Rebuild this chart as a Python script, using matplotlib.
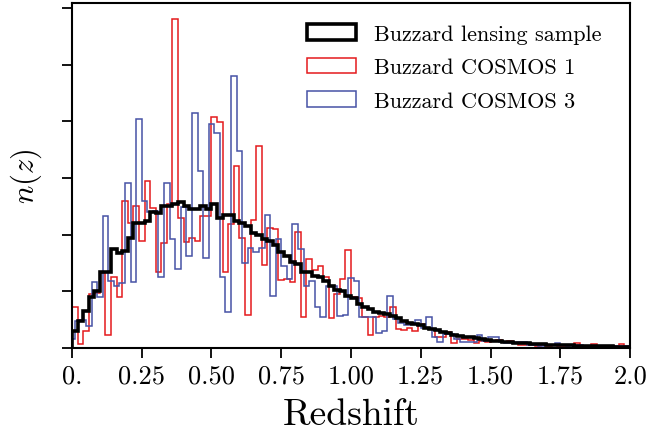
import numpy as np
import matplotlib
matplotlib.use("Agg")
import matplotlib.pyplot as plt

plt.rcParams['font.family'] = 'serif'
plt.rcParams['font.serif'] = ['cmr10', 'DejaVu Serif']
plt.rcParams['mathtext.fontset'] = 'cm'
plt.rcParams['axes.unicode_minus'] = False

# bin edges (redshift)
edges_grid = np.linspace(0.0, 2.0, 101)
edges_shift = np.linspace(-0.01, 2.01, 102)

# n(z), one value per bin
lensing = [0.30, 0.48, 0.65, 0.90, 1.00, 1.35, 1.35, 1.75, 1.68, 1.72,
           1.95, 2.20, 2.20, 2.25, 2.40, 2.38, 2.50, 2.50, 2.55, 2.58,
           2.50, 2.45, 2.45, 2.50, 2.45, 2.55, 2.30, 2.35, 2.35, 2.25,
           2.20, 2.15, 2.03, 2.00, 1.92, 1.88, 1.82, 1.70, 1.62, 1.52,
           1.48, 1.35, 1.35, 1.27, 1.25, 1.18, 1.10, 1.02, 1.00, 0.92,
           0.88, 0.78, 0.72, 0.68, 0.64, 0.62, 0.60, 0.57, 0.53, 0.48,
           0.45, 0.42, 0.40, 0.36, 0.33, 0.32, 0.28, 0.27, 0.23, 0.22,
           0.20, 0.19, 0.17, 0.16, 0.14, 0.13, 0.12, 0.11, 0.10, 0.09,
           0.085, 0.08, 0.075, 0.07, 0.065, 0.06, 0.055, 0.05, 0.05, 0.045,
           0.04, 0.04, 0.035, 0.035, 0.03, 0.03, 0.03, 0.025, 0.025, 0.02]

cosmos1 = [0.72, 0.07, 0.30, 0.95, 0.97, 1.33, 0.23, 1.25, 0.90, 2.60,
           2.20, 2.51, 1.89, 2.95, 2.47, 1.34, 1.85, 2.54, 5.80, 2.29,
           1.87, 1.94, 1.89, 2.33, 2.33, 4.07, 3.99, 1.34, 2.19, 3.22,
           1.95, 0.58, 2.26, 3.56, 1.46, 2.12, 2.10, 1.20, 1.22, 1.16,
           2.05, 0.55, 1.57, 1.38, 1.45, 1.25, 0.53, 0.95, 1.22, 1.73,
           0.90, 0.88, 0.55, 0.23, 0.55, 0.56, 0.55, 0.72, 0.33, 0.31,
           0.35, 0.30, 0.42, 0.35, 0.33, 0.20, 0.20, 0.28, 0.09, 0.16,
           0.16, 0.15, 0.08, 0.12, 0.10, 0.12, 0.14, 0.10, 0.12, 0.08,
           0.06, 0.06, 0.05, 0.04, 0.05, 0.04, 0.05, 0.04, 0.04, 0.05,
           0.08, 0.04, 0.04, 0.07, 0.04, 0.03, 0.04, 0.04, 0.07, 0.04]

cosmos3 = [0.16, 0.48, 0.50, 0.38, 1.17, 0.90, 2.33, 1.19, 1.10, 1.15,
           2.92, 1.17, 4.05, 2.60, 2.40, 2.42, 1.25, 2.91, 1.92, 1.39,
           2.48, 1.62, 4.14, 3.13, 1.58, 3.95, 3.80, 1.25, 0.64, 4.80,
           3.48, 1.50, 1.76, 1.70, 1.77, 2.35, 0.92, 1.93, 1.45, 1.22,
           2.19, 1.75, 1.10, 1.19, 0.72, 0.54, 1.09, 1.09, 0.57, 0.58,
           1.23, 1.19, 0.54, 0.54, 0.54, 0.26, 0.30, 0.92, 0.52, 0.45,
           0.41, 0.45, 0.50, 0.36, 0.54, 0.19, 0.11, 0.25, 0.25, 0.16,
           0.11, 0.11, 0.11, 0.23, 0.12, 0.19, 0.19, 0.10, 0.09, 0.09,
           0.11, 0.10, 0.05, 0.05, 0.04, 0.05, 0.05, 0.09, 0.05, 0.04,
           0.04, 0.05, 0.04, 0.04, 0.03, 0.04, 0.04, 0.03, 0.04, 0.03,
           0.03]

xticks = [0, 0.25, 0.5, 0.75, 1.0, 1.25, 1.5, 1.75, 2.0]
xticklabels = ['0.', '0.25', '0.50', '0.75', '1.00', '1.25', '1.50', '1.75', '2.0']

fig = plt.figure(figsize=(6.71, 4.35), dpi=100)
ax = fig.add_axes([0.1073, 0.1977, 0.8316, 0.792])

h_red = ax.hist(edges_grid[:-1], bins=edges_grid, weights=cosmos1, histtype='step',
                color='#e41a1c', lw=1.1, label='Buzzard COSMOS 1', zorder=2)[2][0]
h_blue = ax.hist(edges_shift[:-1], bins=edges_shift, weights=cosmos3, histtype='step',
                 color='#4652a6', lw=1.1, label='Buzzard COSMOS 3', zorder=2)[2][0]
h_blk = ax.hist(edges_grid[:-1], bins=edges_grid, weights=lensing, histtype='step',
                color='black', lw=2.6, label='Buzzard lensing sample', zorder=3)[2][0]

ax.set_xlim(0, 2.0)
ax.set_ylim(0, 6.08)
ax.set_xticks(xticks)
ax.set_xticklabels(xticklabels)
ax.set_yticks([0, 1, 2, 3, 4, 5, 6])
ax.set_yticklabels([])
ax.tick_params(direction='out', length=7, width=1.3, labelsize=19, pad=4)
for s in ax.spines.values():
    s.set_linewidth(1.5)

ax.set_xlabel('Redshift', fontsize=27, labelpad=8)
ax.set_ylabel(r'$n(z)$', fontsize=22, labelpad=9)

ax.legend(handles=[h_blk, h_red, h_blue], loc='upper right', frameon=False,
          fontsize=16, handlelength=2.2, handleheight=0.72, labelspacing=0.62,
          bbox_to_anchor=(0.985, 0.998))

fig.savefig('out.png', dpi=100)
